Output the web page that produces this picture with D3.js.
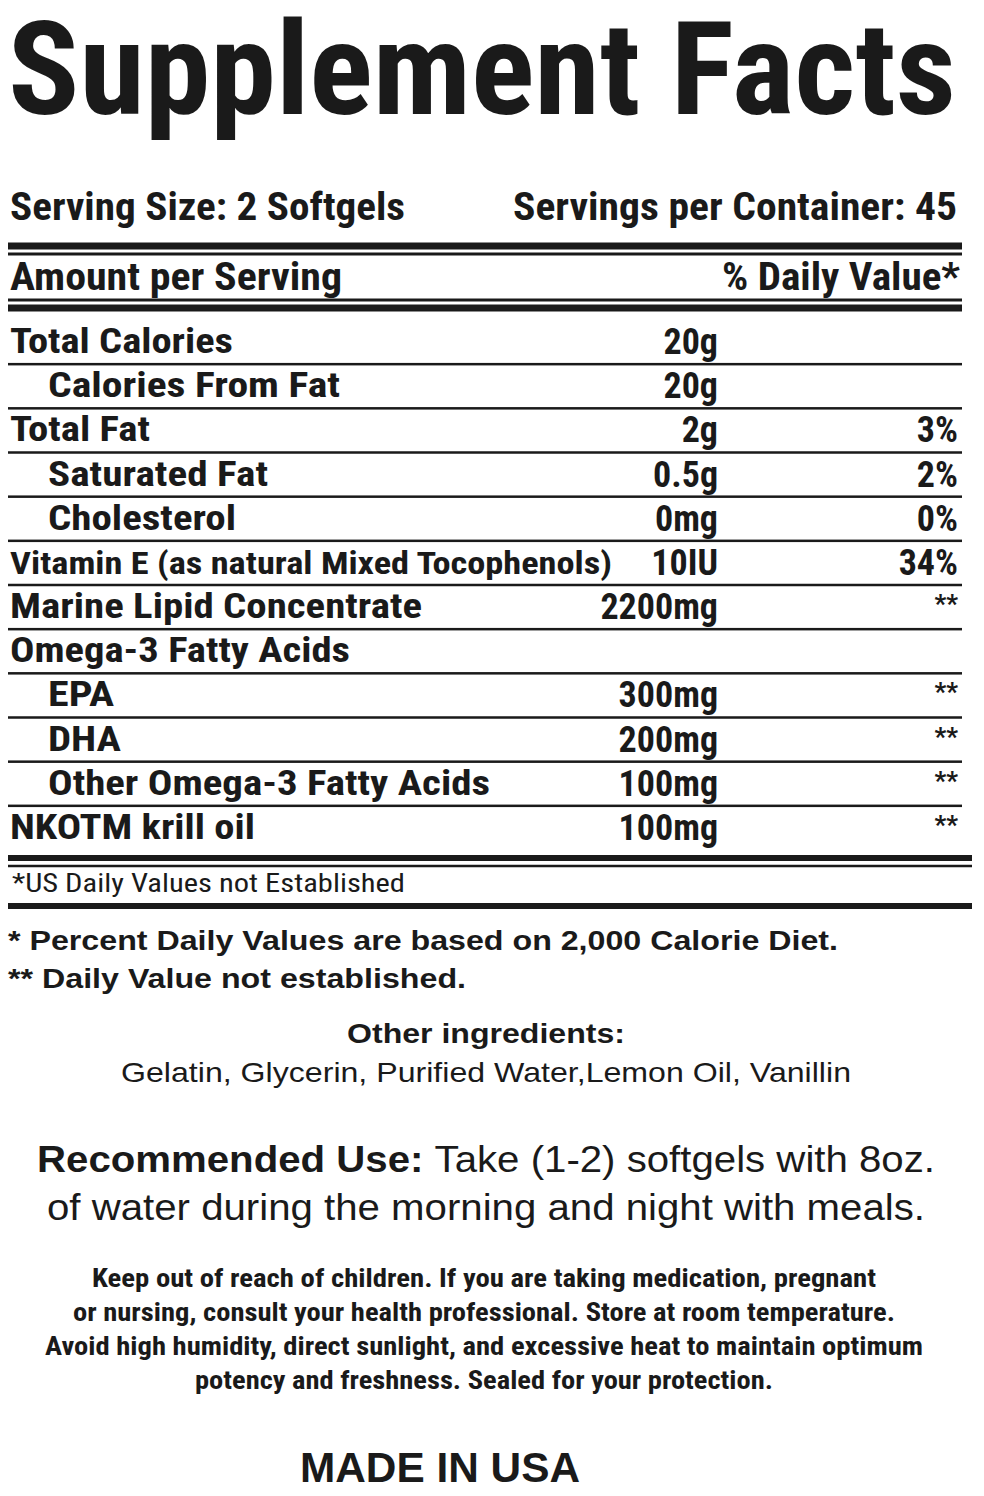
<!DOCTYPE html>
<html><head><meta charset="utf-8">
<script src="https://cdn.jsdelivr.net/npm/d3@7"></script>
<style>body{margin:0;background:#fff}</style></head>
<body><svg id="c" width="984" height="1496"></svg>
<script>
const names = ["Total Calories","Calories From Fat","Total Fat","Saturated Fat","Cholesterol","Vitamin E (as natural Mixed Tocophenols)","Marine Lipid Concentrate","Omega-3 Fatty Acids","EPA","DHA","Other Omega-3 Fatty Acids","NKOTM krill oil"];
const amounts = ["20g","20g","2g","0.5g","0mg","10IU","2200mg","","300mg","200mg","100mg","100mg"];
const dvs = ["","","3%","2%","0%","34%","**","","**","**","**","**"];
const indent = [0,1,0,1,1,0,0,0,1,1,1,0];
const other = ["Gelatin, Glycerin, Purified Water,Lemon Oil, Vanillin"];
const warning = ["Keep out  of reach of children. If you are taking medication, pregnant","or nursing, consult your health professional. Store at room temperature.","Avoid high humidity, direct sunlight, and excessive heat to maintain optimum","potency and freshness. Sealed for your protection."];

// layout widths (not data)
const labelLen = [223,292,140,220,188,602,412,340,66,73,442,245];

const svg = d3.select("#c");
const COND = "'Liberation Sans Narrow','Roboto Condensed','Arial Narrow',sans-serif";
const SANS = "'Liberation Sans',Arial,sans-serif";
const col = "#1a1a1a";
function T(x,y,s,size,opt={}){
  const t = svg.append("text").attr("x",x).attr("y",y).text(s)
   .attr("font-family",opt.f||COND).attr("font-size",size)
   .attr("font-weight",opt.w||"bold").attr("fill",col)
   .attr("text-anchor",opt.a||"start");
  if(opt.len) t.attr("textLength",opt.len).attr("lengthAdjust","spacingAndGlyphs");
  return t;
}
function L(x1,x2,y,h){svg.append("rect").attr("x",x1).attr("y",y-h/2).attr("width",x2-x1).attr("height",h).attr("fill",col);}

T(8,114,"Supplement Facts",130,{len:948});
T(10,220,"Serving Size: 2 Softgels",38,{len:395});
T(957,220,"Servings per Container: 45",38,{a:"end",len:444});
L(8,962,246,7); L(8,962,254,3);
T(10,290,"Amount per Serving",38,{len:332});
T(960,290,"% Daily Value*",38,{a:"end",len:238});
L(8,962,300,3); L(8,962,308,7);

const y = d3.scaleBand().domain(d3.range(names.length)).range([320,850]);
names.forEach((n,i)=>{
  const yc = y(i)+y.bandwidth()/2;
  const fs = i===5?32:35;
  T(indent[i]?48:10, yc+11, n, fs, {len:labelLen[i]});
  if(amounts[i]) T(718, yc+12, amounts[i], 36, {a:"end"});
  if(dvs[i]) T(958, yc+(dvs[i]==="**"?6:12), dvs[i], dvs[i]==="**"?26:36, {a:"end"});
  if(i<names.length-1) L(8,962,y(i+1),2.5);
});
L(8,972,858,6); L(8,972,866,2.5);
T(12,892,"*US Daily Values not Established",26,{w:"normal",len:393});
L(8,972,906,6);

T(8,950,"* Percent Daily Values are based on 2,000 Calorie Diet.",27,{f:SANS,len:830});
T(8,988,"** Daily Value not established.",27,{f:SANS,len:458});
T(486,1043,"Other ingredients:",28,{f:SANS,a:"middle",len:278});
T(486,1082,other[0],28,{f:SANS,w:"normal",a:"middle",len:730});

const r1 = svg.append("text").attr("x",486).attr("y",1172).attr("text-anchor","middle")
  .attr("font-family",SANS).attr("font-size",36).attr("fill",col)
  .attr("textLength",898).attr("lengthAdjust","spacingAndGlyphs");
r1.append("tspan").attr("font-weight","bold").text("Recommended Use: ");
r1.append("tspan").text("Take (1-2) softgels with 8oz.");
T(486,1220,"of water during the morning and night with meals.",36,{f:SANS,w:"normal",a:"middle",len:878});

const wl=[784,822,878,578];
warning.forEach((s,i)=>T(484,1287+i*34,s,26,{a:"middle",len:wl[i]}));
T(440,1482,"MADE IN USA",42,{f:SANS,a:"middle",len:280});
</script></body></html>
